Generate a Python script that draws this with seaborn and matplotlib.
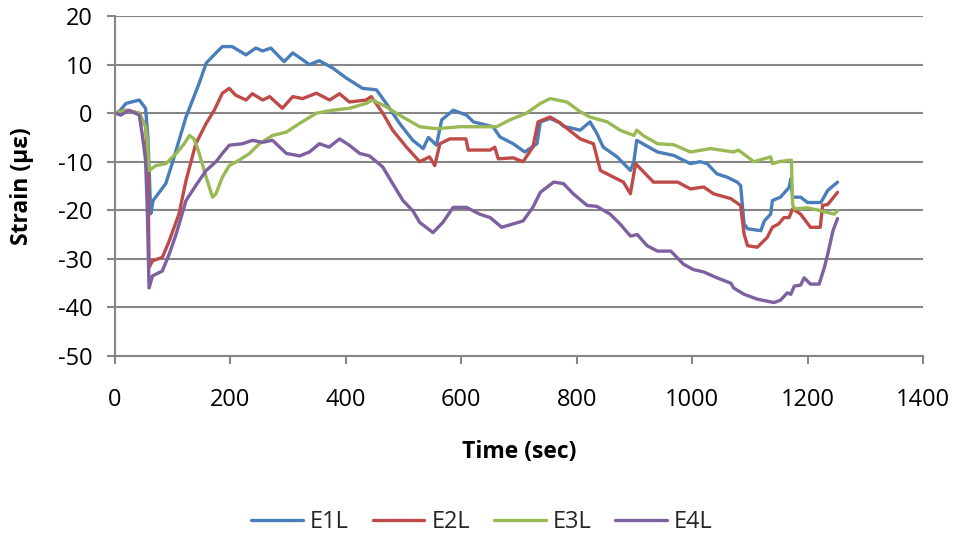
import numpy as np
import pandas as pd
import matplotlib
matplotlib.use("Agg")
import matplotlib.pyplot as plt
import seaborn as sns

# ---- data ----
t_e1 = [0, 7, 19, 42, 53, 57, 62, 66, 88, 99, 123, 146, 158, 175, 186, 203, 227, 244, 256, 270,
        293, 308, 337, 354, 377, 401, 429, 453, 470, 493, 516, 534, 543, 557, 566, 586, 609, 621, 655, 667,
        690, 710, 731, 737, 754, 771, 777, 806, 823, 835, 846, 870, 893, 899, 904, 940, 968, 997, 1014, 1026,
        1043, 1061, 1078, 1084, 1090, 1096, 1119, 1125, 1136, 1139, 1153, 1168, 1171, 1174, 1188, 1200, 1223, 1235, 1252]
v_e1 = [0, 0.3, 2, 2.7, 1, -5, -20.7, -18, -14.5, -10.4, -0.8, 6.2, 10.3, 12.4, 13.7, 13.7, 12, 13.4, 12.8, 13.4,
        10.6, 12.4, 10, 10.8, 9.3, 7.2, 5.1, 4.8, 2, -2.1, -5.6, -7.3, -5, -6.6, -1.4, 0.6, -0.4, -1.8, -2.8, -4.9,
        -6.3, -8, -6.3, -1.8, -1.1, -2, -2.7, -3.5, -1.8, -4.2, -7, -9, -11.8, -10, -5.6, -8, -8.7, -10.4, -10, -10.4,
        -12.5, -13.2, -14.2, -14.9, -22.8, -23.8, -24.2, -22.2, -20.8, -18, -17.3, -15.3, -13.5, -17.3, -17.3, -18.4, -18.4, -15.9, -14.2]

t_e2 = [0, 19, 42, 53, 57, 59, 65, 82, 94, 111, 123, 140, 158, 172, 186, 198, 209, 227, 238, 256,
        268, 290, 308, 325, 349, 372, 389, 406, 435, 444, 464, 481, 505, 528, 545, 554, 563, 580, 608, 612,
        650, 658, 664, 690, 707, 724, 733, 754, 771, 806, 829, 841, 864, 881, 893, 902, 933, 975, 997, 1020,
        1037, 1067, 1084, 1090, 1096, 1113, 1130, 1139, 1150, 1159, 1168, 1174, 1188, 1205, 1222, 1226, 1235, 1252]
v_e2 = [0, 0.6, 0, -2.8, -10, -31.8, -30.4, -29.7, -26.3, -20.7, -13.9, -6.3, -2.1, 0.6, 4.1, 5.1, 3.7, 2.7, 4, 2.7,
        3.4, 1, 3.4, 3, 4.1, 2.7, 4, 2.3, 2.7, 3.4, 0, -3.5, -7, -10, -9, -10.8, -6.3, -5.3, -5.3, -7.6,
        -7.6, -7, -9.4, -9.2, -10, -7, -1.8, -0.8, -2, -5.3, -6.3, -11.8, -13.2, -14.2, -16.6, -10.4, -14.2, -14.2, -15.6, -15.2,
        -16.6, -17.6, -19, -24.9, -27.3, -27.6, -25.6, -23.5, -22.8, -21.5, -21.5, -19.7, -20.8, -23.5, -23.5, -19, -18.8, -16.3]

t_e3 = [0, 19, 42, 53, 56, 59, 71, 88, 106, 120, 129, 137, 146, 158, 169, 175, 186, 198, 215, 233,
        250, 273, 297, 320, 349, 377, 406, 435, 446, 470, 493, 528, 557, 598, 661, 684, 713, 737, 754, 783,
        806, 823, 853, 875, 899, 904, 915, 940, 968, 997, 1032, 1072, 1080, 1096, 1107, 1136, 1139, 1150, 1168, 1172,
        1174, 1177, 1200, 1223, 1246, 1252]
v_e3 = [0, 0.6, 0, -2.8, -5.6, -11.8, -10.8, -10.4, -8.3, -6.3, -4.6, -5.3, -8.3, -13.2, -17.3, -16.6, -13.2, -10.8, -9.7, -8.3,
        -6.3, -4.6, -3.9, -2.1, 0, 0.6, 1, 2, 2.7, 1.3, -0.4, -2.8, -3.2, -2.8, -2.8, -1.4, 0, 2, 3, 2.3,
        0.3, -0.8, -1.8, -3.5, -4.6, -3.5, -4.6, -6.3, -6.5, -8, -7.3, -8, -7.6, -9, -10, -9, -10.4, -10, -9.7, -9.7,
        -18.7, -19.7, -19.5, -20.1, -20.8, -20.1]

t_e4 = [0, 10, 24, 42, 47, 53, 56, 59, 65, 82, 94, 106, 123, 140, 158, 175, 186, 198, 221, 238,
        256, 273, 297, 320, 337, 354, 371, 389, 406, 424, 441, 464, 481, 499, 516, 528, 551, 568, 586, 609,
        632, 650, 670, 690, 707, 724, 737, 760, 777, 794, 818, 835, 858, 875, 893, 905, 922, 940, 963, 985,
        1002, 1020, 1043, 1067, 1072, 1090, 1113, 1142, 1153, 1165, 1171, 1177, 1188, 1194, 1205, 1220, 1229, 1235, 1244, 1252]
v_e4 = [0, -0.4, 0.6, -0.4, -4.2, -9.7, -20, -36, -33.5, -32.5, -29, -24.9, -18, -14.9, -11.8, -10, -8.3, -6.6, -6.3, -5.6,
        -6, -5.6, -8.3, -8.8, -8, -6.3, -7, -5.3, -6.6, -8.3, -8.8, -11.1, -14.5, -18, -20.1, -22.5, -24.6, -22.5, -19.4, -19.4,
        -20.8, -21.5, -23.5, -22.8, -22.2, -19.4, -16.3, -14.2, -14.5, -16.6, -19, -19.2, -20.8, -22.8, -25.3, -25, -27.3, -28.4, -28.4, -31.1,
        -32.2, -32.7, -33.9, -35, -36, -37.3, -38.3, -39, -38.5, -37, -37.3, -35.6, -35.4, -33.9, -35.2, -35.2, -31.8, -29, -24.2, -21.7]

series_names = ["E1L", "E2L", "E3L", "E4L"]
x_ticks = [0, 200, 400, 600, 800, 1000, 1200, 1400]
y_ticks = [20, 10, 0, -10, -20, -30, -40, -50]
colors = ["#4A7EBB", "#BE4B48", "#98B954", "#7D60A0"]

frames = []
for name, t, v in zip(series_names, [t_e1, t_e2, t_e3, t_e4], [v_e1, v_e2, v_e3, v_e4]):
    frames.append(pd.DataFrame({"Time": t, "Strain": v, "Series": name}))
df = pd.concat(frames, ignore_index=True)

sns.set_theme(style="white")
plt.rcParams["font.family"] = ["Open Sans", "DejaVu Sans"]
plt.rcParams["axes.unicode_minus"] = False

fig = plt.figure(figsize=(9.56, 5.40), dpi=100)
ax = fig.add_axes([115 / 956, 1 - 356 / 540, (923 - 115) / 956, (356 - 16) / 540])

sns.lineplot(data=df, x="Time", y="Strain", hue="Series", hue_order=series_names,
             palette=colors, estimator=None, sort=False, linewidth=2.4, ax=ax, legend=False)

grid_c = "#868686"
ax.set_xlim(0, 1400)
ax.set_ylim(-50, 20)
ax.set_xticks(x_ticks)
ax.set_yticks(y_ticks)
ax.yaxis.grid(True, color=grid_c, linewidth=1.5)
ax.xaxis.grid(False)
ax.set_axisbelow(True)
for s in ["top", "right"]:
    ax.spines[s].set_visible(False)
for s in ["left", "bottom"]:
    ax.spines[s].set_color(grid_c)
    ax.spines[s].set_linewidth(1.5)
ax.tick_params(axis="both", which="major", direction="out", length=6, width=1.5,
               color=grid_c, labelsize=17, labelcolor="black")
ax.tick_params(axis="x", pad=17)
ax.tick_params(axis="y", pad=10)
ax.tick_params(bottom=True, left=True)

ax.set_xlabel("Time (sec)", fontsize=16.5, fontweight="bold", color="black")
ax.set_ylabel("Strain (με)", fontsize=16.5, fontweight="bold", color="black")
ax.xaxis.label.set_va("center")
ax.yaxis.label.set_va("center")
ax.xaxis.set_label_coords(0.5, (356 - 452) / 340)
ax.yaxis.set_label_coords((22 - 115) / 808, 0.5)

handles = [plt.Line2D([0], [0], color=c, linewidth=2.4) for c in colors]
fig.legend(handles, series_names, loc="center", bbox_to_anchor=(482 / 956, 1 - 522 / 540),
           ncol=4, frameon=False, fontsize=17, handlelength=2.2, columnspacing=1.0, handletextpad=0.3)

fig.savefig("out.png", dpi=100)
